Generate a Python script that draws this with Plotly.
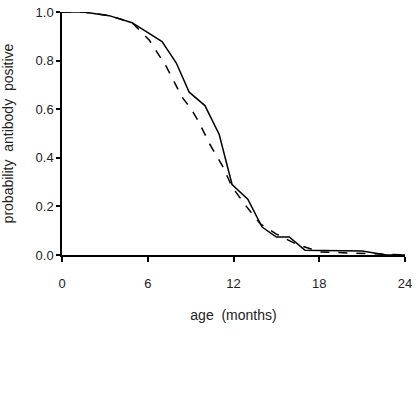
import plotly.graph_objects as go

# Observed (solid) curve
obs_age = [0, 1.5, 3.3, 4.9, 5.9, 7.0, 8.0, 8.9, 10.0, 11.0, 11.9, 13.0, 14.0, 15.0, 15.9, 17.0, 21.0, 22.7, 24]
obs_prob = [1.0, 1.0, 0.985, 0.956, 0.919, 0.878, 0.79, 0.67, 0.615, 0.496, 0.29, 0.23, 0.115, 0.074, 0.074, 0.02, 0.016, 0.0, 0.0]

# Fitted (dashed) curve
fit_age = [0, 1.5, 3.3, 4.9, 6.1, 7.3, 8.4, 9.05, 9.6, 10.3, 11.2, 11.9, 12.9, 13.9, 15.0, 16.4, 18.0, 20.0, 22.0, 24]
fit_prob = [1.0, 1.0, 0.985, 0.956, 0.885, 0.775, 0.65, 0.60, 0.545, 0.46, 0.37, 0.28, 0.20, 0.127, 0.086, 0.045, 0.013, 0.008, 0.003, 0.0]

x_ticks = [0, 6, 12, 18, 24]
y_ticks = [0.0, 0.2, 0.4, 0.6, 0.8, 1.0]
y_tick_text = ["0.0", "0.2", "0.4", "0.6", "0.8", "1.0"]

fig = go.Figure()
fig.add_trace(go.Scatter(x=obs_age, y=obs_prob, mode="lines",
                         line=dict(color="black", width=1.5), showlegend=False))
fig.add_trace(go.Scatter(x=fit_age, y=fit_prob, mode="lines",
                         line=dict(color="black", width=1.5, dash="dash"), showlegend=False))

font = dict(family="Liberation Sans, Arial, sans-serif", size=13, color="#222")

fig.update_layout(
    width=418, height=420,
    margin=dict(l=62, r=13, t=12, b=165),
    plot_bgcolor="white", paper_bgcolor="white",
    font=font,
    xaxis=dict(range=[0, 24], tickvals=x_ticks, showgrid=False, zeroline=False,
               showline=True, linecolor="black", linewidth=1.5, automargin=False,
               ticks="outside", ticklen=5, tickwidth=1.5, tickcolor="black",
               ticklabelstandoff=11,
               title=dict(text="age  (months)", font=dict(size=14), standoff=20)),
    yaxis=dict(range=[0, 1.0], tickvals=y_ticks, ticktext=y_tick_text, showgrid=False, zeroline=False,
               showline=True, linecolor="black", linewidth=1.5, automargin=False,
               ticks="outside", ticklen=4, tickwidth=1.5, tickcolor="black",
               title=dict(text="probability  antibody  positive", font=dict(size=14), standoff=21)),
)

fig.write_html("out.html")
